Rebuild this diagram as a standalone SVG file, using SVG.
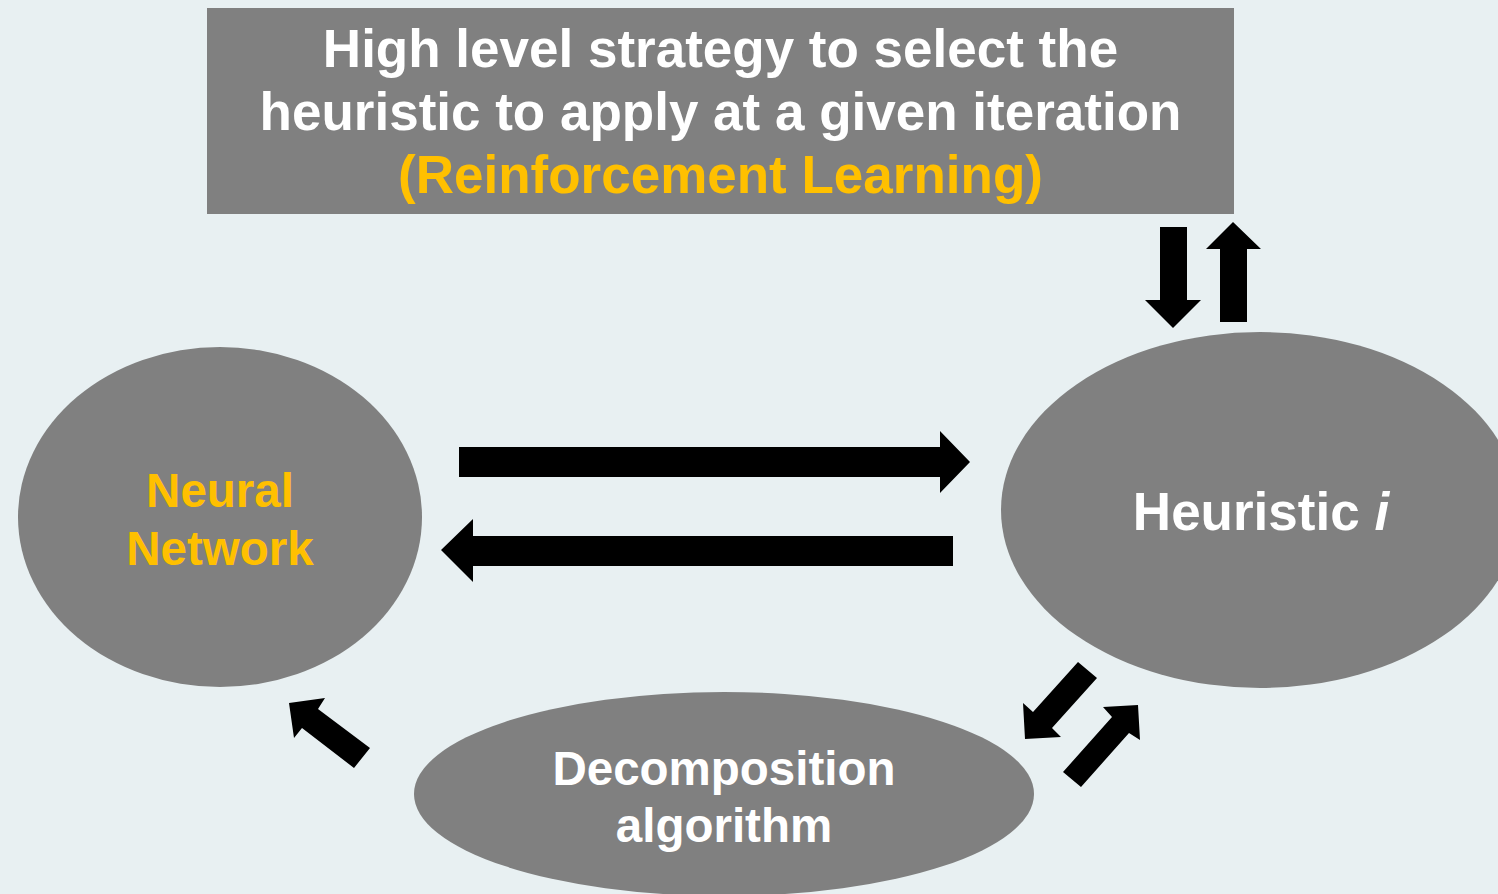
<svg xmlns="http://www.w3.org/2000/svg" width="1498" height="894" viewBox="0 0 1498 894">
<style>
.shape{fill:#808080;}
.t{font-family:"Liberation Sans",Arial,sans-serif;font-weight:bold;text-anchor:middle;fill:#ffffff;}
.o{fill:#FFC000;}
.arr{fill:#000000;}
</style>
<rect x="0" y="0" width="1498" height="894" fill="#E8F0F2"/>
<g id="strategy">
<rect class="shape" x="207" y="8" width="1027" height="206"/>
<text class="t" x="720.5" y="67" font-size="53">High level strategy to select the</text>
<text class="t" x="720.5" y="130" font-size="53">heuristic to apply at a given iteration</text>
<text class="t o" x="720.5" y="193" font-size="53">(Reinforcement Learning)</text>
</g>
<g id="neural-network">
<ellipse class="shape" cx="220" cy="517" rx="202" ry="170"/>
<text class="t o" x="220" y="507" font-size="47.5">Neural</text>
<text class="t o" x="220" y="565" font-size="47.5">Network</text>
</g>
<g id="heuristic">
<ellipse class="shape" cx="1260" cy="510" rx="259" ry="178"/>
<text class="t" x="1261" y="530" font-size="53">Heuristic <tspan font-style="italic">i</tspan></text>
</g>
<g id="decomposition">
<ellipse class="shape" cx="724" cy="794" rx="310" ry="102"/>
<text class="t" x="724" y="785" font-size="47.5">Decomposition</text>
<text class="t" x="724" y="842" font-size="47.5">algorithm</text>
</g>
<g id="connectors">
<polygon class="arr" points="1160,227 1187,227 1187,300 1201,300 1173,328 1145,300 1160,300"/>
<polygon class="arr" points="1233,222 1261,249 1247,249 1247,322 1220,322 1220,249 1206,249"/>
<polygon class="arr" points="459,447 940,447 940,431 970,462 940,493 940,477 459,477"/>
<polygon class="arr" points="441,550 473,519 473,536 953,536 953,566 473,566 473,582"/>
<polygon class="arr" points="1078,662 1033,712 1023,703 1025,739 1061,737 1052,728 1097,678"/>
<polygon class="arr" points="1063,772 1112,717 1103,707 1138,705 1140,740 1129,733 1081,787"/>
<polygon class="arr" points="289,703 325,698 318,709 370,748 354,768 302,728 294,738"/>
</g>
</svg>
